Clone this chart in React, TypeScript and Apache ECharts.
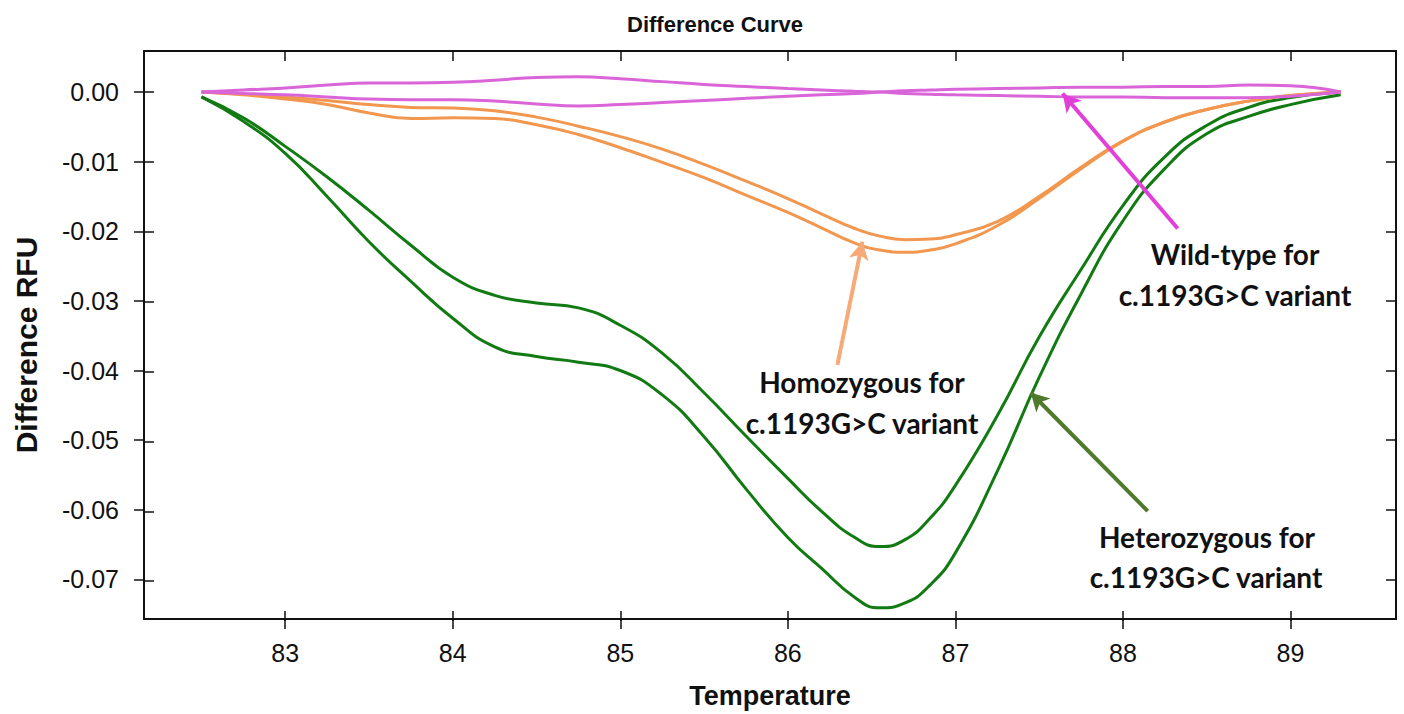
import React, { useEffect, useRef } from "react";
import * as echarts from "echarts";

const temps = [82.5, 82.75, 83, 83.25, 83.5, 83.75, 84, 84.25, 84.5, 84.75, 85, 85.25, 85.5, 85.75, 86, 86.2, 86.4, 86.55, 86.7, 86.85, 87, 87.25, 87.5, 87.75, 88, 88.25, 88.5, 88.75, 89, 89.3];

const hetero1 = [-0.0007, -0.0037, -0.0078, -0.0122, -0.017, -0.022, -0.0266, -0.0292, -0.0303, -0.031, -0.0335, -0.0375, -0.0432, -0.0494, -0.0555, -0.0602, -0.064, -0.0653, -0.0643, -0.0612, -0.0565, -0.0465, -0.0352, -0.0255, -0.0163, -0.0093, -0.0048, -0.0022, -0.0008, 0.0];
const hetero2 = [-0.0007, -0.0042, -0.0088, -0.015, -0.0215, -0.0272, -0.0325, -0.0366, -0.038, -0.0388, -0.04, -0.0435, -0.0495, -0.057, -0.064, -0.0684, -0.0726, -0.0741, -0.0734, -0.0708, -0.0662, -0.0545, -0.041, -0.029, -0.0185, -0.011, -0.006, -0.0035, -0.0018, -0.0004];
const homo1 = [0, -0.0003, -0.0007, -0.0012, -0.0018, -0.0022, -0.0023, -0.0027, -0.0036, -0.0049, -0.0064, -0.0082, -0.0104, -0.0128, -0.0153, -0.0175, -0.0196, -0.0207, -0.0212, -0.0211, -0.0205, -0.0186, -0.015, -0.0108, -0.007, -0.0043, -0.0025, -0.0013, -0.0005, 0];
const homo2 = [0, -0.0004, -0.001, -0.0018, -0.003, -0.0038, -0.0037, -0.0038, -0.0047, -0.0061, -0.008, -0.0101, -0.0123, -0.0148, -0.0173, -0.0195, -0.0217, -0.0227, -0.023, -0.0227, -0.0218, -0.0192, -0.0153, -0.011, -0.0071, -0.0043, -0.0025, -0.0013, -0.0005, 0];
const wild1 = [0, 0.0003, 0.0006, 0.001, 0.0013, 0.0013, 0.0014, 0.0017, 0.0021, 0.0022, 0.0019, 0.0015, 0.0011, 0.0008, 0.0005, 0.0003, 0.0001, 0.0, -0.0002, -0.0003, -0.0004, -0.0005, -0.0006, -0.0007, -0.0007, -0.0008, -0.0008, -0.0008, -0.0006, 0];
const wild2 = [0, -0.0002, -0.0004, -0.0007, -0.001, -0.0011, -0.0011, -0.0013, -0.0017, -0.002, -0.0018, -0.0015, -0.0012, -0.0009, -0.0006, -0.0004, -0.0002, 0.0, 0.0002, 0.0003, 0.0004, 0.0005, 0.0006, 0.0007, 0.0007, 0.0008, 0.0008, 0.001, 0.0009, 0];

const xTicks = [83, 84, 85, 86, 87, 88, 89];
const yTicks = [0, -0.01, -0.02, -0.03, -0.04, -0.05, -0.06, -0.07];

// arrows: [tailT, tailV, tipT, tipV]
const homoArrow = [86.296, -0.0392, 86.445, -0.0215];
const wildArrow = [88.327, -0.0196, 87.64, -0.0002];
const heteroArrow = [88.148, -0.0602, 87.45, -0.0432];

const AXIS_FONT = "'Liberation Sans', Arial, sans-serif";
const NOTE_FONT = "Lato, 'Open Sans', sans-serif";

const X_MIN = 82.157;
const X_MAX = 89.63;
const Y_MIN = -0.0757;
const Y_MAX = 0.0059;

function pairs(vals: number[]) {
  return temps.map((t, i) => [t, vals[i]]);
}

function curve(name: string, vals: number[], color: string) {
  return {
    type: "line",
    name,
    xAxisIndex: 0,
    yAxisIndex: 0,
    data: pairs(vals),
    smooth: 0.5,
    showSymbol: false,
    symbol: "none",
    lineStyle: { color, width: 3 },
    silent: true,
  };
}

function arrow(a: number[], color: string) {
  return {
    type: "line",
    xAxisIndex: 0,
    yAxisIndex: 0,
    data: [],
    silent: true,
    markLine: {
      silent: true,
      animation: false,
      symbol: ["none", "arrow"],
      symbolSize: [15, 18],
      label: { show: false },
      lineStyle: { color, width: 4, type: "solid" },
      emphasis: { disabled: true },
      data: [[{ coord: [a[0], a[1]] }, { coord: [a[2], a[3]] }]],
    },
  };
}

function note(text: string, x: number, y: number) {
  return {
    type: "text",
    x,
    y,
    style: {
      text,
      fill: "#111",
      font: `bold 28px ${NOTE_FONT}`,
      textAlign: "center",
      textVerticalAlign: "middle",
    },
  };
}

export default function App() {
  const ref = useRef<HTMLDivElement>(null);
  useEffect(() => {
    if (!ref.current) return;
    const chart = echarts.init(ref.current, undefined, { renderer: "svg" });
    const gridBox = { left: 144, top: 51, width: 1252, height: 570 };
    const frameLine = { show: true, onZero: false, lineStyle: { color: "#111", width: 2 } };
    const hiddenLine = { show: false, onZero: false };
    const tickStyle = { color: "#111", width: 1.5 };
    chart.setOption({
      animation: false,
      backgroundColor: "#fff",
      title: {
        text: "Difference Curve",
        left: 627,
        top: 13,
        padding: 0,
        textStyle: { fontFamily: AXIS_FONT, fontWeight: "bold", fontSize: 22, color: "#111" },
      },
      grid: [
        { ...gridBox, containLabel: false },
        { ...gridBox, containLabel: false },
      ],
      xAxis: [
        {
          type: "value",
          gridIndex: 0,
          position: "bottom",
          min: X_MIN,
          max: X_MAX,
          axisLine: frameLine,
          axisTick: { show: true, inside: false, length: 10, lineStyle: tickStyle, customValues: xTicks },
          axisLabel: {
            customValues: xTicks,
            fontSize: 25,
            fontFamily: AXIS_FONT,
            color: "#111",
            margin: 21,
          },
          splitLine: { show: false },
          name: "Temperature",
          nameLocation: "middle",
          nameGap: 63,
          nameTextStyle: { fontFamily: AXIS_FONT, fontWeight: "bold", fontSize: 27, color: "#111" },
        },
        {
          type: "value",
          gridIndex: 0,
          position: "top",
          min: X_MIN,
          max: X_MAX,
          axisLine: frameLine,
          axisTick: { show: true, inside: true, length: 10, lineStyle: tickStyle, customValues: xTicks },
          axisLabel: { show: false },
          splitLine: { show: false },
        },
        {
          type: "value",
          gridIndex: 1,
          position: "bottom",
          min: X_MIN,
          max: X_MAX,
          axisLine: hiddenLine,
          axisTick: { show: true, inside: true, length: 10, lineStyle: tickStyle, customValues: xTicks },
          axisLabel: { show: false },
          splitLine: { show: false },
        },
      ],
      yAxis: [
        {
          type: "value",
          gridIndex: 0,
          position: "left",
          min: Y_MIN,
          max: Y_MAX,
          axisLine: frameLine,
          axisTick: { show: true, inside: false, length: 10, lineStyle: tickStyle, customValues: yTicks },
          axisLabel: {
            customValues: yTicks,
            fontSize: 25,
            fontFamily: AXIS_FONT,
            color: "#111",
            margin: 25,
            formatter: (v: number) => v.toFixed(2),
          },
          splitLine: { show: false },
        },
        {
          type: "value",
          gridIndex: 0,
          position: "right",
          min: Y_MIN,
          max: Y_MAX,
          axisLine: frameLine,
          axisTick: { show: true, inside: true, length: 10, lineStyle: tickStyle, customValues: yTicks },
          axisLabel: { show: false },
          splitLine: { show: false },
        },
        {
          type: "value",
          gridIndex: 1,
          position: "left",
          min: Y_MIN,
          max: Y_MAX,
          axisLine: hiddenLine,
          axisTick: { show: true, inside: true, length: 10, lineStyle: tickStyle, customValues: yTicks },
          axisLabel: { show: false },
          splitLine: { show: false },
        },
      ],
      series: [
        curve("Heterozygous 1", hetero1, "#127a12"),
        curve("Heterozygous 2", hetero2, "#127a12"),
        curve("Homozygous 1", homo1, "#f2974f"),
        curve("Homozygous 2", homo2, "#f2974f"),
        curve("Wild-type 1", wild1, "#d965d9"),
        curve("Wild-type 2", wild2, "#d965d9"),
        arrow(homoArrow, "#f5aa78"),
        arrow(wildArrow, "#e03fd8"),
        arrow(heteroArrow, "#4f7a2c"),
        { type: "line", xAxisIndex: 2, yAxisIndex: 2, data: [], silent: true },
      ],
      graphic: [
        {
          type: "text",
          x: 26,
          y: 345,
          rotation: Math.PI / 2,
          style: {
            text: "Difference RFU",
            fill: "#111",
            font: `bold 30px ${AXIS_FONT}`,
            textAlign: "center",
            textVerticalAlign: "middle",
          },
        },
        note("Homozygous for", 862, 382),
        note("c.1193G>C variant", 862, 423),
        note("Wild-type for", 1235, 254),
        note("c.1193G>C variant", 1235, 295),
        note("Heterozygous for", 1207, 537),
        note("c.1193G>C variant", 1206, 577),
      ],
    });
    return () => chart.dispose();
  }, []);
  return (
    <div
      ref={ref}
      style={{ position: "fixed", left: 0, top: 0, width: 1404, height: 714, background: "#fff" }}
    />
  );
}
